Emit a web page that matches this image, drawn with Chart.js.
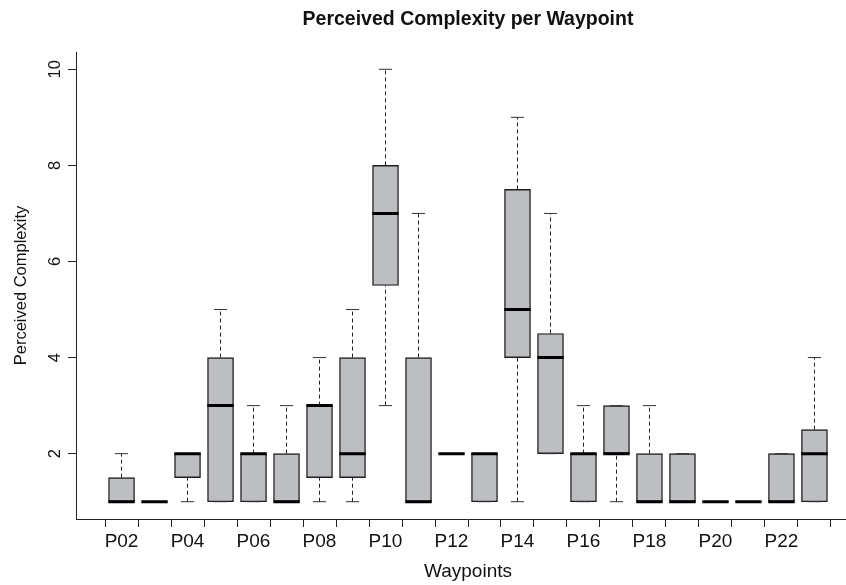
<!DOCTYPE html>
<html>
<head>
<meta charset="utf-8">
<script src="https://cdn.jsdelivr.net/npm/chart.js@4"></script>
<style>
  html, body { margin: 0; padding: 0; background: #fff; }
  #wrap { width: 846px; height: 585px; overflow: hidden; position: relative; }
  canvas { display: block; }
</style>
</head>
<body>
<div id="wrap"><canvas id="box" width="860" height="585"></canvas></div>
<script>
// five-number summaries per waypoint
const waypoints = ['P02', 'P03', 'P04', 'P05', 'P06', 'P07', 'P08', 'P09', 'P10', 'P11', 'P12',
                   'P13', 'P14', 'P15', 'P16', 'P17', 'P18', 'P19', 'P20', 'P21', 'P22', 'P23'];
const whiskerLow  = [1, 1, 1,   1, 1, 1, 1,   1,   3,   1, 2, 1, 1,   2,   1, 1, 1, 1, 1, 1, 1, 1];
const quart1      = [1, 1, 1.5, 1, 1, 1, 1.5, 1.5, 5.5, 1, 2, 1, 4,   2,   1, 2, 1, 1, 1, 1, 1, 1];
const medians     = [1, 1, 2,   3, 2, 1, 3,   2,   7,   1, 2, 2, 5,   4,   2, 2, 1, 1, 1, 1, 1, 2];
const quart3      = [1.5, 1, 2, 4, 2, 2, 3,   4,   8,   4, 2, 2, 7.5, 4.5, 2, 3, 2, 2, 1, 1, 2, 2.5];
const whiskerHigh = [2, 1, 2,   5, 3, 3, 4,   5,   10,  7, 2, 2, 9,   7,   3, 3, 3, 2, 1, 1, 2, 4];
const yTicks = [2, 4, 6, 8, 10];

const pos = waypoints.map((_, i) => i + 1);
const halfBox = 0.4, halfCap = 0.2;

// segments separated by null points so each piece is drawn on its own
function segments(fn) {
  const out = [];
  pos.forEach((x, i) => { fn(x, i).forEach(p => out.push(p)); out.push({ x: x, y: null }); });
  return out;
}

const whiskers = segments((x, i) => [
  { x: x, y: quart3[i] }, { x: x, y: whiskerHigh[i] }, { x: x, y: null },
  { x: x, y: whiskerLow[i] }, { x: x, y: quart1[i] }
]);
const caps = segments((x, i) => [
  { x: x - halfCap, y: whiskerHigh[i] }, { x: x + halfCap, y: whiskerHigh[i] }, { x: x, y: null },
  { x: x - halfCap, y: whiskerLow[i] }, { x: x + halfCap, y: whiskerLow[i] }
]);
const medianLines = segments((x, i) => [
  { x: x - halfBox, y: medians[i] }, { x: x + halfBox, y: medians[i] }
]);

const font = 'Liberation Sans, Arial, Helvetica, sans-serif';

new Chart(document.getElementById('box'), {
  type: 'bar',
  data: {
    datasets: [
      {
        type: 'line', data: whiskers, order: 4,
        borderColor: '#222', borderWidth: 1, borderDash: [4, 3],
        pointRadius: 0, spanGaps: false, fill: false
      },
      {
        type: 'bar', data: pos.map((x, i) => ({ x: x, y: [quart1[i], quart3[i]] })), order: 3,
        backgroundColor: '#bdbec2', borderColor: '#1e1e1e', borderWidth: 1.4,
        borderSkipped: false, barThickness: 26, grouped: false
      },
      {
        type: 'line', data: caps, order: 2,
        borderColor: '#333', borderWidth: 1,
        pointRadius: 0, spanGaps: false, fill: false
      },
      {
        type: 'line', data: medianLines, order: 1,
        borderColor: '#000', borderWidth: 3, borderCapStyle: 'butt',
        pointRadius: 0, spanGaps: false, fill: false
      }
    ]
  },
  options: {
    responsive: false,
    animation: false,
    events: [],
    layout: { padding: 0 },
    plugins: {
      legend: { display: false },
      tooltip: { enabled: false },
      title: {
        display: true,
        text: 'Perceived Complexity per Waypoint',
        fullSize: false,
        color: '#111',
        font: { family: font, size: 19.5, weight: 'bold' },
        padding: { top: 8, bottom: 20.6 }
      }
    },
    scales: {
      x: {
        type: 'linear',
        offset: false,
        min: -0.38, max: 23.38,
        afterBuildTicks: s => { s.ticks = pos.map(v => ({ value: v })); },
        afterFit: s => { s.height = 66; },
        grid: { drawOnChartArea: false, drawTicks: true, tickLength: 8, color: '#222', tickWidth: 1 },
        border: { display: true, color: '#222', width: 1 },
        ticks: {
          autoSkip: false, maxRotation: 0, minRotation: 0, padding: 3,
          color: '#111', font: { family: font, size: 19 },
          callback: v => (v % 2 === 1 ? waypoints[v - 1] : '')
        },
        title: {
          display: true, text: 'Waypoints', color: '#111',
          font: { family: font, size: 19 }, padding: { top: 0, bottom: 2 }
        }
      },
      y: {
        type: 'linear',
        min: 0.64, max: 10.36,
        afterBuildTicks: s => { s.ticks = yTicks.map(v => ({ value: v })); },
        afterFit: s => { s.width = 76; },
        grid: { drawOnChartArea: false, drawTicks: true, tickLength: 8, color: '#222', tickWidth: 1 },
        border: { display: true, color: '#222', width: 1 },
        ticks: {
          minRotation: 90, maxRotation: 90, crossAlign: 'center', padding: 3,
          color: '#111', font: { family: font, size: 16.5 }
        },
        title: {
          display: true, text: 'Perceived Complexity', color: '#111',
          font: { family: font, size: 16.5 }, padding: { top: 12, bottom: 0 }
        }
      }
    }
  }
});
</script>
</body>
</html>
